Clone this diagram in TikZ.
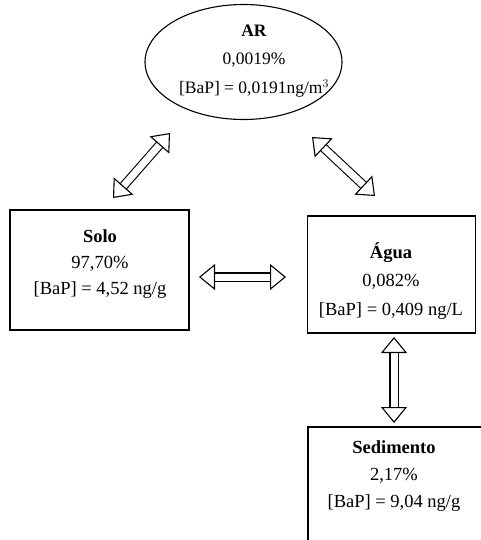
\documentclass[tikz,border=0pt]{standalone}
\usepackage{fontspec}
\setmainfont{Liberation Serif}
\usetikzlibrary{shapes.geometric,arrows.meta}
\tikzset{
  box/.style={draw, line width=1.3pt, inner sep=0pt},
  label/.style={align=center, font=\fontsize{18.5}{27}\selectfont},
  dblarrow/.style={double, double distance=7pt, line width=1.1pt,
    {Triangle[open, length=16pt, width=26pt]}-{Triangle[open, length=16pt, width=26pt]}}
}
\begin{document}
\begin{tikzpicture}[x=1pt, y=-1pt]
  \useasboundingbox (0,0) rectangle (481,540);
  \clip (0,0) rectangle (481,540);

  % compartments
  \node[ellipse, draw, line width=1.1pt, minimum width=197pt, minimum height=115pt] (ar) at (243.5,62) {};
  \node[box, minimum width=179pt, minimum height=120pt] (solo) at (99.5,270) {};
  \node[box, minimum width=168pt, minimum height=117pt] (agua) at (391.5,274.5) {};
  \node[box, minimum width=190pt, minimum height=140pt] (sed) at (403,497) {};

  % texts
  \node[label, font=\fontsize{17.5}{28.5}\selectfont] (artxt) at (254,61) {\textbf{AR}\\0,0019\%\\{[BaP]} = 0,0191ng/m$^3$};
  \node[label, font=\fontsize{18.5}{26}\selectfont] (solotxt) at (100,264) {\textbf{Solo}\\97,70\%\\{[BaP]} = 4,52 ng/g};
  \node[label, font=\fontsize{18.5}{28.5}\selectfont] (aguatxt) at (391,281) {\textbf{Água}\\0,082\%\\{[BaP]} = 0,409 ng/L};
  \node[label] (sedtxt) at (394,476) {\textbf{Sedimento}\\2,17\%\\{[BaP]} = 9,04 ng/g};

  % exchanges
  \coordinate (ar-a) at (170,133);
  \coordinate (solo-a) at (113,198);
  \coordinate (ar-b) at (312,137);
  \coordinate (agua-a) at (375,196);
  \coordinate (solo-b) at (199,277);
  \coordinate (agua-b) at (286,277);
  \coordinate (agua-c) at (394,337);
  \coordinate (sed-a) at (394,423);

  \draw[dblarrow] (ar-a) -- (solo-a);
  \draw[dblarrow] (ar-b) -- (agua-a);
  \draw[dblarrow] (solo-b) -- (agua-b);
  \draw[dblarrow] (agua-c) -- (sed-a);
\end{tikzpicture}
\end{document}
